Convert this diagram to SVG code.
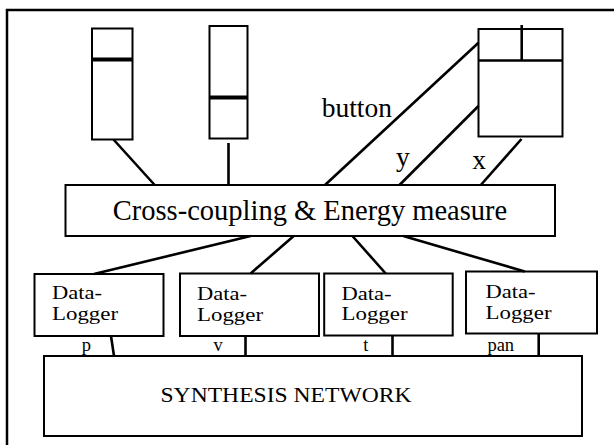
<svg xmlns="http://www.w3.org/2000/svg" width="614" height="445" viewBox="0 0 614 445">
<style>
.box{fill:#fff;stroke:#000;stroke-width:2}
.bar{stroke:#000;stroke-width:4}
.ln{stroke:#000;stroke-width:2.6;fill:none}
text{font-family:"Liberation Serif","Times New Roman",serif;fill:#000}
.big{font-size:28.5px}
.dl{font-size:19.5px}
.sn{font-size:21px}
.lbl{font-size:27.5px}
.sm{font-size:18.5px}
</style>
<rect x="0" y="0" width="614" height="445" fill="#fff"/>
<rect id="frame" x="7" y="10" width="612" height="440" fill="none" stroke="#000" stroke-width="2.5"/>
<g id="slider1">
<rect class="box" x="92" y="28.5" width="40.5" height="111"/>
<line class="bar" x1="92" y1="59.5" x2="132.5" y2="59.5"/>
</g>
<g id="slider2">
<rect class="box" x="209.5" y="26" width="38" height="112.5"/>
<line class="bar" x1="209.5" y1="97.5" x2="247.5" y2="97.5"/>
</g>
<g id="mouse">
<rect class="box" x="478.5" y="29" width="84" height="107.5"/>
<line class="ln" x1="478.5" y1="60.5" x2="562.5" y2="60.5"/>
<line class="ln" x1="521.7" y1="25" x2="521.7" y2="60.5"/>
</g>
<g id="crosscoupling">
<rect class="box" x="65.5" y="185" width="489.5" height="51"/>
<text class="big" x="310" y="220" text-anchor="middle">Cross-coupling &amp; Energy measure</text>
</g>
<g id="dl1">
<rect class="box" x="34.5" y="274" width="129" height="62"/>
<text class="dl" x="52" y="298.5" textLength="50" lengthAdjust="spacingAndGlyphs">Data-</text>
<text class="dl" x="52" y="319.5" textLength="66" lengthAdjust="spacingAndGlyphs">Logger</text>
</g>
<g id="dl2">
<rect class="box" x="180" y="273.5" width="139" height="62.5"/>
<text class="dl" x="197" y="300" textLength="50" lengthAdjust="spacingAndGlyphs">Data-</text>
<text class="dl" x="197" y="320.5" textLength="66" lengthAdjust="spacingAndGlyphs">Logger</text>
</g>
<g id="dl3">
<rect class="box" x="324.2" y="273.5" width="128.5" height="62"/>
<text class="dl" x="341.5" y="299.5" textLength="50" lengthAdjust="spacingAndGlyphs">Data-</text>
<text class="dl" x="341.5" y="320" textLength="66" lengthAdjust="spacingAndGlyphs">Logger</text>
</g>
<g id="dl4">
<rect class="box" x="466" y="271.5" width="131" height="62"/>
<text class="dl" x="485.5" y="298" textLength="50" lengthAdjust="spacingAndGlyphs">Data-</text>
<text class="dl" x="485.5" y="319" textLength="66" lengthAdjust="spacingAndGlyphs">Logger</text>
</g>
<g id="synthesis">
<rect class="box" x="44" y="356" width="538" height="80"/>
<text class="sn" x="160.5" y="401.7" textLength="251" lengthAdjust="spacingAndGlyphs">SYNTHESIS NETWORK</text>
</g>
<g id="connectors">
<line class="ln" x1="113.5" y1="139.5" x2="154.7" y2="185"/>
<line class="ln" x1="228.5" y1="143" x2="228.5" y2="185"/>
<line class="ln" x1="478.5" y1="42.7" x2="325" y2="185"/>
<line class="ln" x1="478.5" y1="106" x2="399.5" y2="185"/>
<line class="ln" x1="521.5" y1="139" x2="480.8" y2="185"/>
<line class="ln" x1="250.6" y1="236" x2="94" y2="274"/>
<line class="ln" x1="293.7" y1="236" x2="250.6" y2="273.5"/>
<line class="ln" x1="352.4" y1="236" x2="385.7" y2="273.5"/>
<line class="ln" x1="403.3" y1="236" x2="524.7" y2="271.5"/>
<line class="ln" x1="111" y1="336" x2="114" y2="356"/>
<line class="ln" x1="245.5" y1="336" x2="245.5" y2="356"/>
<line class="ln" x1="392.5" y1="335.5" x2="392.5" y2="356"/>
<line class="ln" x1="538.7" y1="333.5" x2="538.7" y2="356"/>
</g>
<g id="labels">
<text class="lbl" x="321.7" y="116.7">button</text>
<text class="lbl" x="396" y="166">y</text>
<text class="lbl" x="472.3" y="169">x</text>
<text class="sm" x="81.7" y="351">p</text>
<text class="sm" x="213.4" y="351">v</text>
<text class="sm" x="363.3" y="351">t</text>
<text class="sm" x="487.4" y="351">pan</text>
</g>
</svg>
